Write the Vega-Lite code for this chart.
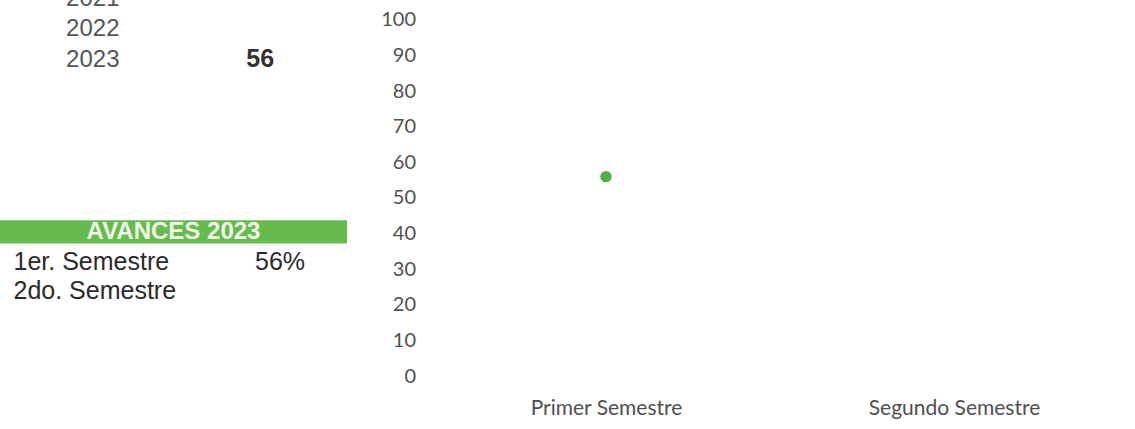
{
  "$schema": "https://vega.github.io/schema/vega-lite/v6.json",
  "background": "white",
  "padding": {"left": 0, "top": -17, "right": 0, "bottom": 0},
  "config": {"view": {"stroke": null}, "font": "Liberation Sans"},
  "spacing": 33,
  "hconcat": [
    {
      "spacing": 142,
      "vconcat": [
        {
          "width": 347,
          "height": 91.5,
          "data": {"values": [
            {"anio": "2021", "valor": null},
            {"anio": "2022", "valor": null},
            {"anio": "2023", "valor": 56}
          ]},
          "transform": [{"filter": "datum.valor != null"}],
          "mark": {"type": "text", "font": "Liberation Sans", "fontSize": 25, "fontWeight": "bold", "color": "#333333"},
          "encoding": {
            "y": {"field": "anio", "type": "ordinal",
              "scale": {"domain": ["2021", "2022", "2023"], "paddingInner": 0, "paddingOuter": 0},
              "axis": {"title": null, "domain": false, "ticks": false, "tickSize": 0, "labelPadding": -119, "labelAlign": "right", "labelFont": "Liberation Sans", "labelFontSize": 24, "labelColor": "#555555"}},
            "x": {"datum": "Valor", "type": "nominal",
              "scale": {"type": "point", "domain": ["Año", "Valor"], "padding": 0.5}, "axis": null},
            "text": {"field": "valor", "type": "quantitative"}
          }
        },
        {
          "width": 347,
          "height": 89,
          "data": {"values": [
            {"fila": "AVANCES 2023", "avance": null},
            {"fila": "1er. Semestre", "avance": 0.56},
            {"fila": "2do. Semestre", "avance": null}
          ]},
          "encoding": {
            "y": {"field": "fila", "type": "ordinal",
              "scale": {"domain": ["AVANCES 2023", "1er. Semestre", "2do. Semestre"], "paddingInner": 0, "paddingOuter": 0},
              "axis": {"title": null, "domain": false, "ticks": false, "tickSize": 0, "labelPadding": -13, "labelAlign": "left", "labelFont": "Liberation Sans", "labelFontSize": 25, "labelColor": "#2b2b2b", "labelExpr": "datum.value == 'AVANCES 2023' ? '' : datum.label"}}
          },
          "layer": [
            {
              "transform": [{"filter": "datum.fila == 'AVANCES 2023'"}],
              "mark": {"type": "rect", "color": "#66bb4f", "height": {"band": 0.78}}
            },
            {
              "transform": [{"filter": "datum.fila == 'AVANCES 2023'"}],
              "mark": {"type": "text", "color": "#f2f7ea", "fontWeight": "bold", "fontSize": 24, "font": "Liberation Sans"},
              "encoding": {"text": {"field": "fila", "type": "nominal"}}
            },
            {
              "transform": [{"filter": "datum.avance != null"}],
              "mark": {"type": "text", "color": "#2b2b2b", "fontSize": 25, "font": "Liberation Sans"},
              "encoding": {
                "x": {"datum": "Avance", "type": "nominal",
                  "scale": {"type": "point", "domain": ["Semestre", "Avance"], "padding": 0.3146}, "axis": null},
                "text": {"field": "avance", "type": "quantitative", "format": ".0%"}
              }
            }
          ]
        }
      ]
    },
    {
      "width": 696,
      "height": 393.25,
      "data": {"values": [
        {"semestre": "Primer Semestre", "avance": 56},
        {"semestre": "Segundo Semestre", "avance": null}
      ]},
      "mark": {"type": "circle", "size": 130, "color": "#53b046", "opacity": 1},
      "encoding": {
        "x": {"field": "semestre", "type": "nominal",
          "scale": {"type": "point", "domain": ["Primer Semestre", "Segundo Semestre"], "padding": 0.5},
          "axis": {"title": null, "labelAngle": 0, "domain": false, "ticks": false, "tickSize": 0, "labelPadding": 21.5, "labelFont": "Lato", "labelFontSize": 21, "labelColor": "#505050"}},
        "y": {"field": "avance", "type": "quantitative",
          "scale": {"domain": [0, 110.3], "nice": false},
          "axis": {"title": null, "values": [0, 10, 20, 30, 40, 50, 60, 70, 80, 90, 100], "grid": false, "domain": false, "ticks": false, "tickSize": 0, "labelPadding": 16.5, "minExtent": 52, "maxExtent": 52, "labelFont": "Lato", "labelFontSize": 20, "labelColor": "#505050"}}
      }
    }
  ]
}
